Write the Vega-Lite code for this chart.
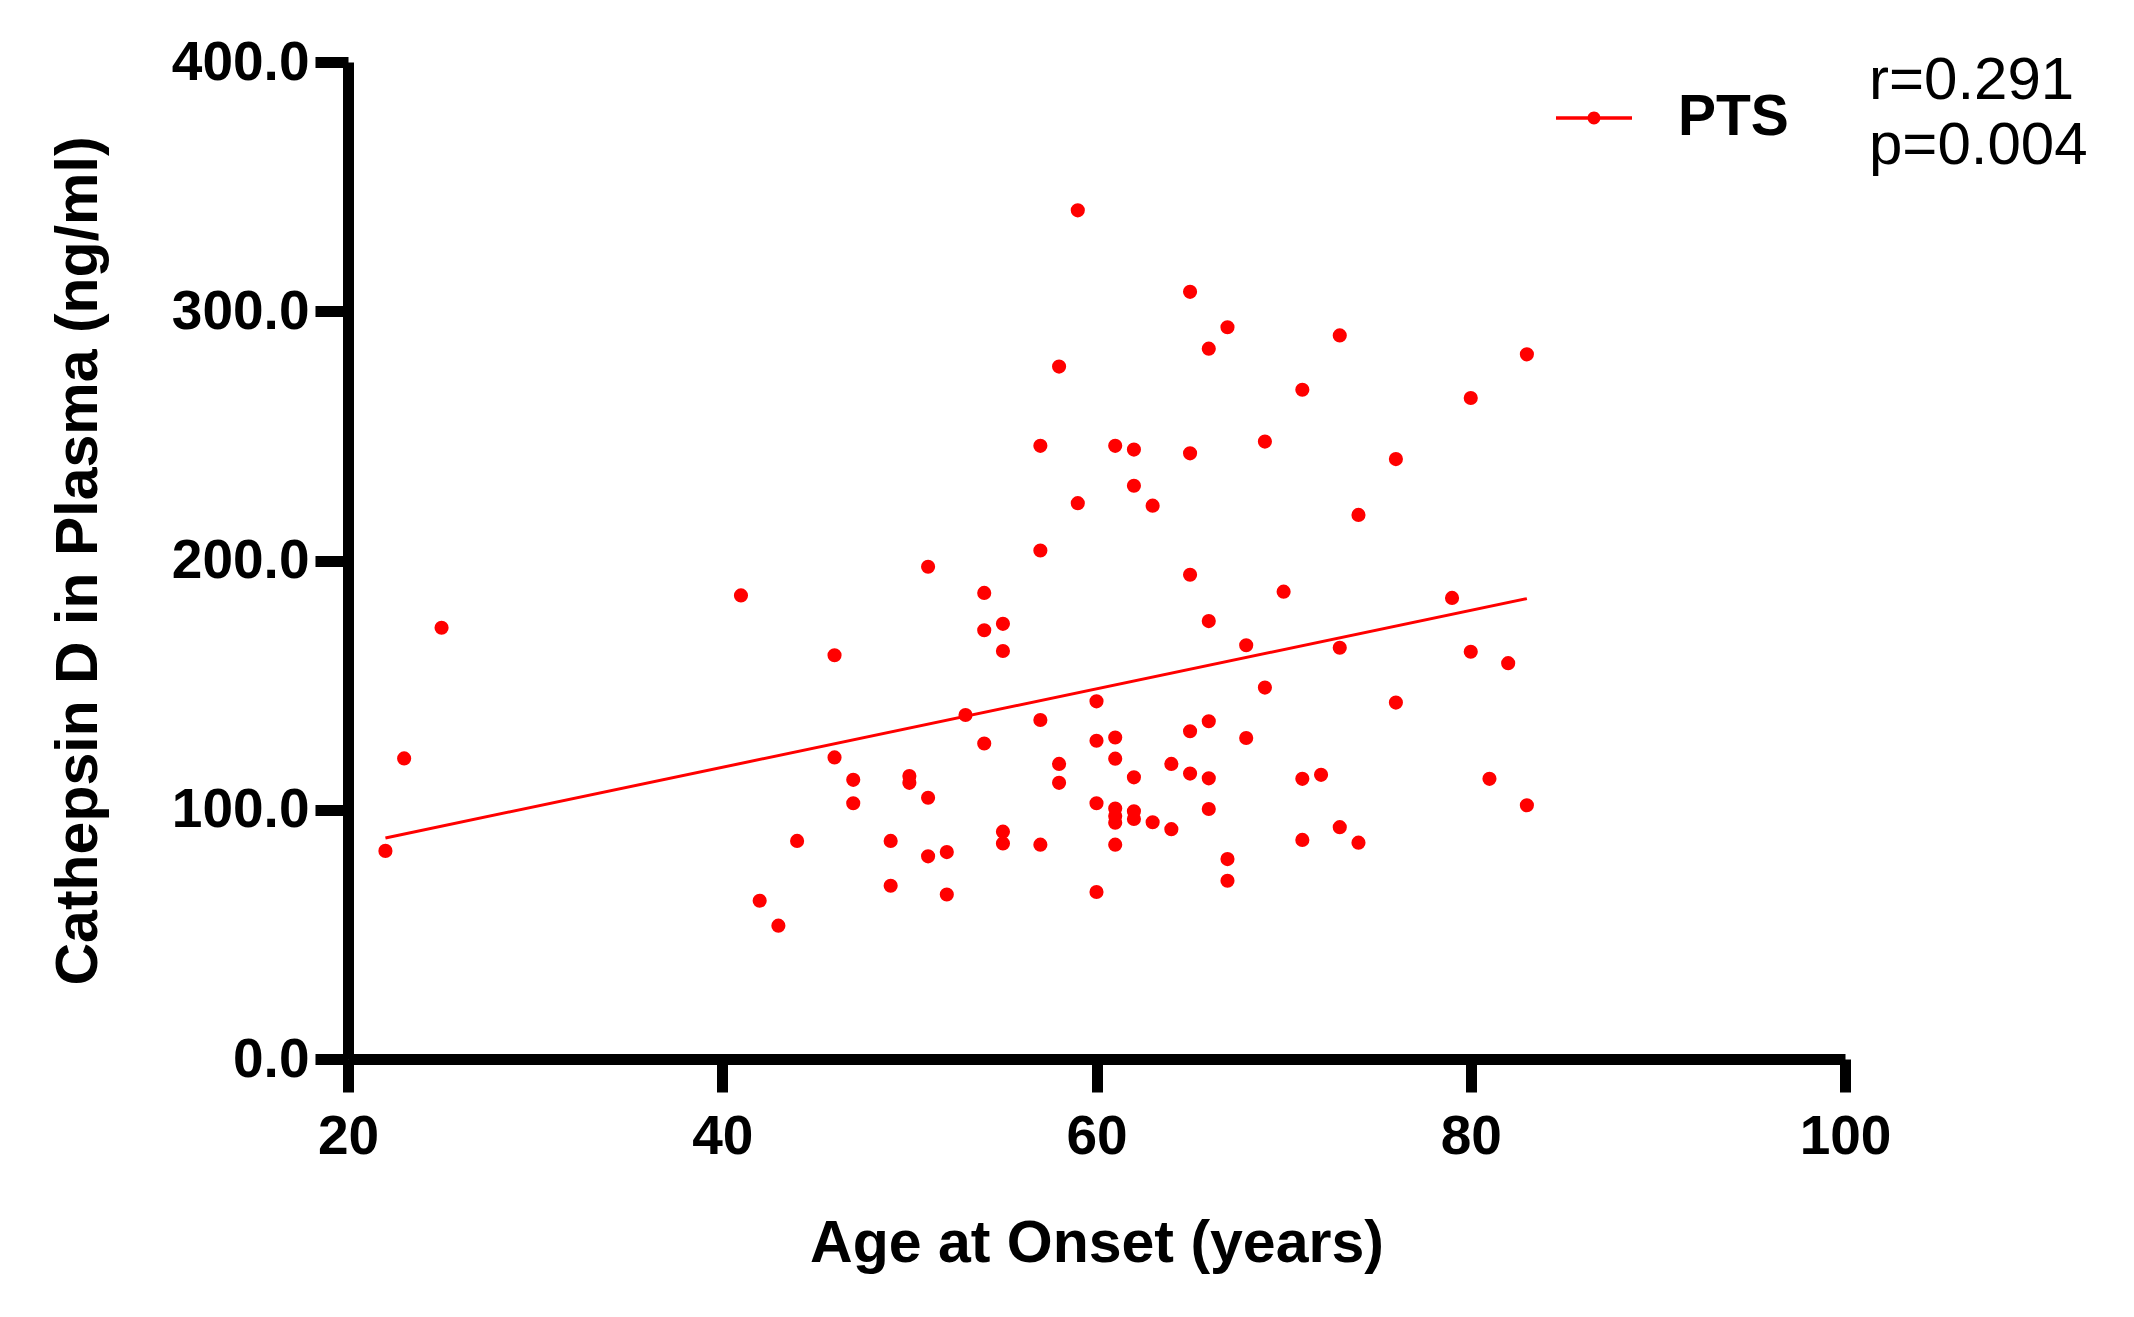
{
  "$schema": "https://vega.github.io/schema/vega-lite/v6.json",
  "width": 1497,
  "height": 997,
  "autosize": {"type": "none"},
  "padding": {"left": 348, "top": 62, "right": 289, "bottom": 258},
  "background": "white",
  "config": {
    "view": {"stroke": null},
    "font": "Liberation Sans",
    "axis": {
      "grid": false,
      "domainColor": "black",
      "domainWidth": 11,
      "tickColor": "black",
      "tickWidth": 11,
      "tickSize": 33,
      "labelFont": "Liberation Sans",
      "labelFontWeight": "bold",
      "labelFontSize": 55,
      "labelColor": "black",
      "labelFlush": false,
      "titleFont": "Liberation Sans",
      "titleFontWeight": "bold",
      "titleFontSize": 59,
      "titleColor": "black"
    }
  },
  "datasets": {
    "points": [
      {"age": 22, "cathepsin": 83.5, "group": "PTS"},
      {"age": 23, "cathepsin": 120.6, "group": "PTS"},
      {"age": 25, "cathepsin": 173, "group": "PTS"},
      {"age": 41, "cathepsin": 186, "group": "PTS"},
      {"age": 42, "cathepsin": 63.5, "group": "PTS"},
      {"age": 43, "cathepsin": 53.5, "group": "PTS"},
      {"age": 44, "cathepsin": 87.5, "group": "PTS"},
      {"age": 46, "cathepsin": 162, "group": "PTS"},
      {"age": 46, "cathepsin": 121, "group": "PTS"},
      {"age": 47, "cathepsin": 112, "group": "PTS"},
      {"age": 47, "cathepsin": 102.6, "group": "PTS"},
      {"age": 49, "cathepsin": 87.5, "group": "PTS"},
      {"age": 49, "cathepsin": 69.5, "group": "PTS"},
      {"age": 50, "cathepsin": 113.5, "group": "PTS"},
      {"age": 50, "cathepsin": 110.8, "group": "PTS"},
      {"age": 51, "cathepsin": 197.5, "group": "PTS"},
      {"age": 51, "cathepsin": 104.8, "group": "PTS"},
      {"age": 51, "cathepsin": 81.3, "group": "PTS"},
      {"age": 52, "cathepsin": 83, "group": "PTS"},
      {"age": 52, "cathepsin": 66, "group": "PTS"},
      {"age": 53, "cathepsin": 138, "group": "PTS"},
      {"age": 54, "cathepsin": 187, "group": "PTS"},
      {"age": 54, "cathepsin": 172, "group": "PTS"},
      {"age": 54, "cathepsin": 126.6, "group": "PTS"},
      {"age": 55, "cathepsin": 174.6, "group": "PTS"},
      {"age": 55, "cathepsin": 163.7, "group": "PTS"},
      {"age": 55, "cathepsin": 91.2, "group": "PTS"},
      {"age": 55, "cathepsin": 86.5, "group": "PTS"},
      {"age": 57, "cathepsin": 246, "group": "PTS"},
      {"age": 57, "cathepsin": 204, "group": "PTS"},
      {"age": 57, "cathepsin": 136, "group": "PTS"},
      {"age": 57, "cathepsin": 86, "group": "PTS"},
      {"age": 58, "cathepsin": 277.8, "group": "PTS"},
      {"age": 58, "cathepsin": 118.4, "group": "PTS"},
      {"age": 58, "cathepsin": 110.8, "group": "PTS"},
      {"age": 59, "cathepsin": 340.5, "group": "PTS"},
      {"age": 59, "cathepsin": 223, "group": "PTS"},
      {"age": 60, "cathepsin": 143.5, "group": "PTS"},
      {"age": 60, "cathepsin": 127.7, "group": "PTS"},
      {"age": 60, "cathepsin": 102.6, "group": "PTS"},
      {"age": 60, "cathepsin": 67, "group": "PTS"},
      {"age": 61, "cathepsin": 246, "group": "PTS"},
      {"age": 61, "cathepsin": 129, "group": "PTS"},
      {"age": 61, "cathepsin": 120.5, "group": "PTS"},
      {"age": 61, "cathepsin": 100.5, "group": "PTS"},
      {"age": 61, "cathepsin": 97.5, "group": "PTS"},
      {"age": 61, "cathepsin": 94.8, "group": "PTS"},
      {"age": 61, "cathepsin": 86, "group": "PTS"},
      {"age": 62, "cathepsin": 244.5, "group": "PTS"},
      {"age": 62, "cathepsin": 230, "group": "PTS"},
      {"age": 62, "cathepsin": 113, "group": "PTS"},
      {"age": 62, "cathepsin": 99.4, "group": "PTS"},
      {"age": 62, "cathepsin": 96.3, "group": "PTS"},
      {"age": 63, "cathepsin": 222, "group": "PTS"},
      {"age": 63, "cathepsin": 95, "group": "PTS"},
      {"age": 64, "cathepsin": 118.4, "group": "PTS"},
      {"age": 64, "cathepsin": 92.2, "group": "PTS"},
      {"age": 65, "cathepsin": 307.8, "group": "PTS"},
      {"age": 65, "cathepsin": 243, "group": "PTS"},
      {"age": 65, "cathepsin": 194.3, "group": "PTS"},
      {"age": 65, "cathepsin": 131.5, "group": "PTS"},
      {"age": 65, "cathepsin": 114.5, "group": "PTS"},
      {"age": 66, "cathepsin": 285, "group": "PTS"},
      {"age": 66, "cathepsin": 175.7, "group": "PTS"},
      {"age": 66, "cathepsin": 135.5, "group": "PTS"},
      {"age": 66, "cathepsin": 112.6, "group": "PTS"},
      {"age": 66, "cathepsin": 100.3, "group": "PTS"},
      {"age": 67, "cathepsin": 293.6, "group": "PTS"},
      {"age": 67, "cathepsin": 80.2, "group": "PTS"},
      {"age": 67, "cathepsin": 71.5, "group": "PTS"},
      {"age": 68, "cathepsin": 166, "group": "PTS"},
      {"age": 68, "cathepsin": 128.8, "group": "PTS"},
      {"age": 69, "cathepsin": 247.7, "group": "PTS"},
      {"age": 69, "cathepsin": 149, "group": "PTS"},
      {"age": 70, "cathepsin": 187.5, "group": "PTS"},
      {"age": 71, "cathepsin": 268.5, "group": "PTS"},
      {"age": 71, "cathepsin": 112.4, "group": "PTS"},
      {"age": 71, "cathepsin": 87.9, "group": "PTS"},
      {"age": 72, "cathepsin": 114, "group": "PTS"},
      {"age": 73, "cathepsin": 290.3, "group": "PTS"},
      {"age": 73, "cathepsin": 165, "group": "PTS"},
      {"age": 73, "cathepsin": 93, "group": "PTS"},
      {"age": 74, "cathepsin": 218.3, "group": "PTS"},
      {"age": 74, "cathepsin": 86.8, "group": "PTS"},
      {"age": 76, "cathepsin": 240.7, "group": "PTS"},
      {"age": 76, "cathepsin": 143, "group": "PTS"},
      {"age": 79, "cathepsin": 185, "group": "PTS"},
      {"age": 80, "cathepsin": 265.2, "group": "PTS"},
      {"age": 80, "cathepsin": 163.4, "group": "PTS"},
      {"age": 81, "cathepsin": 112.4, "group": "PTS"},
      {"age": 82, "cathepsin": 158.8, "group": "PTS"},
      {"age": 83, "cathepsin": 282.7, "group": "PTS"},
      {"age": 83, "cathepsin": 101.8, "group": "PTS"}
    ],
    "fit": [
      {"age": 22, "cathepsin": 88.7},
      {"age": 83, "cathepsin": 184.7}
    ]
  },
  "layer": [
    {
      "data": {"name": "fit"},
      "mark": {"type": "line", "color": "#ff0000", "strokeWidth": 3},
      "encoding": {
        "x": {"field": "age", "type": "quantitative"},
        "y": {"field": "cathepsin", "type": "quantitative"}
      }
    },
    {
      "data": {"name": "points"},
      "mark": {"type": "point", "filled": true, "opacity": 1, "size": 200},
      "encoding": {
        "x": {
          "field": "age",
          "type": "quantitative",
          "scale": {"domain": [20, 100], "nice": false, "zero": false},
          "axis": {
            "title": "Age at Onset (years)",
            "values": [20, 40, 60, 80, 100],
            "format": "d",
            "labelPadding": 18,
            "titlePadding": 50
          }
        },
        "y": {
          "field": "cathepsin",
          "type": "quantitative",
          "scale": {"domain": [0, 400], "nice": false},
          "axis": {
            "title": "Cathepsin D in Plasma (ng/ml)",
            "values": [0, 100, 200, 300, 400],
            "format": ".1f",
            "labelPadding": 6,
            "titlePadding": 63
          }
        },
        "color": {
          "field": "group",
          "type": "nominal",
          "scale": {"domain": ["PTS"], "range": ["#ff0000"]},
          "legend": {
            "orient": "none",
            "legendX": 1208,
            "legendY": 18,
            "title": ["r=0.291", "p=0.004"],
            "titleOrient": "right",
            "titleLimit": 1000,
            "titleFont": "Liberation Sans",
            "titleFontWeight": "normal",
            "titleFontSize": 60,
            "titleLineHeight": 65,
            "titleColor": "black",
            "titlePadding": 80,
            "labelFont": "Liberation Sans",
            "labelFontWeight": "bold",
            "labelFontSize": 57,
            "labelColor": "black",
            "labelOffset": 46,
            "symbolType": "M-1,-0.045L1,-0.045L1,0.045L-1,0.045Z M0,-0.17A0.17,0.17 0 1,1 0,0.17A0.17,0.17 0 1,1 0,-0.17Z",
            "symbolSize": 5776,
            "symbolFillColor": "#ff0000",
            "symbolStrokeWidth": 0
          }
        }
      }
    }
  ]
}
